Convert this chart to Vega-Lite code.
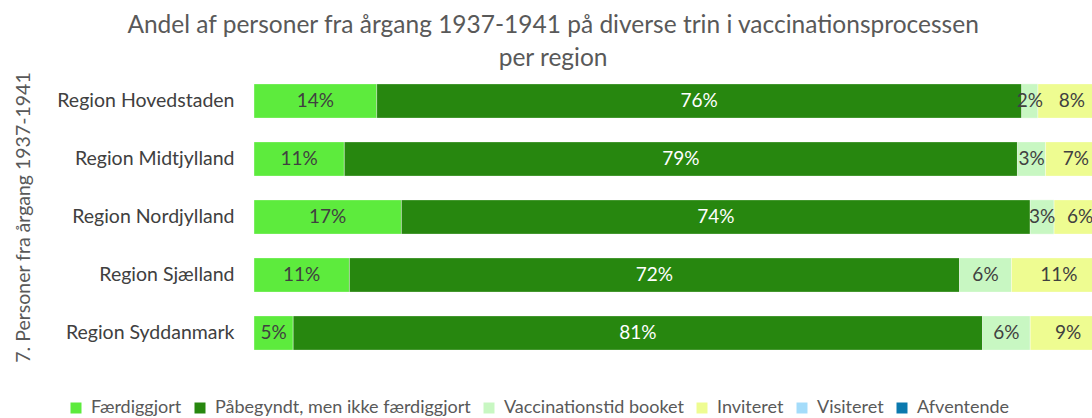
{
  "$schema": "https://vega.github.io/schema/vega-lite/v6.json",
  "width": 838,
  "height": 290,
  "autosize": {"type": "none"},
  "padding": {"left": 254, "top": 72, "right": 0, "bottom": 56},
  "background": "white",
  "config": {"font": "Lato", "view": {"stroke": null}},
  "title": {
    "text": ["Andel af personer fra årgang 1937-1941 på diverse trin i vaccinationsprocessen", "per region"],
    "fontSize": 24.5,
    "font": "Lato",
    "fontWeight": "normal",
    "color": "#595959",
    "lineHeight": 33,
    "anchor": "middle",
    "frame": "bounds",
    "offset": 0
  },
  "data": {
    "values": [
      {"region": "Region Hovedstaden", "stage": "Færdiggjort", "value": 14.4},
      {"region": "Region Hovedstaden", "stage": "Påbegyndt, men ikke færdiggjort", "value": 75.7},
      {"region": "Region Hovedstaden", "stage": "Vaccinationstid booket", "value": 1.9},
      {"region": "Region Hovedstaden", "stage": "Inviteret", "value": 8.0},
      {"region": "Region Midtjylland", "stage": "Færdiggjort", "value": 10.6},
      {"region": "Region Midtjylland", "stage": "Påbegyndt, men ikke færdiggjort", "value": 79.0},
      {"region": "Region Midtjylland", "stage": "Vaccinationstid booket", "value": 3.3},
      {"region": "Region Midtjylland", "stage": "Inviteret", "value": 7.1},
      {"region": "Region Nordjylland", "stage": "Færdiggjort", "value": 17.3},
      {"region": "Region Nordjylland", "stage": "Påbegyndt, men ikke færdiggjort", "value": 73.8},
      {"region": "Region Nordjylland", "stage": "Vaccinationstid booket", "value": 2.8},
      {"region": "Region Nordjylland", "stage": "Inviteret", "value": 6.1},
      {"region": "Region Sjælland", "stage": "Færdiggjort", "value": 11.2},
      {"region": "Region Sjælland", "stage": "Påbegyndt, men ikke færdiggjort", "value": 71.6},
      {"region": "Region Sjælland", "stage": "Vaccinationstid booket", "value": 6.1},
      {"region": "Region Sjælland", "stage": "Inviteret", "value": 11.1},
      {"region": "Region Syddanmark", "stage": "Færdiggjort", "value": 4.6},
      {"region": "Region Syddanmark", "stage": "Påbegyndt, men ikke færdiggjort", "value": 80.9},
      {"region": "Region Syddanmark", "stage": "Vaccinationstid booket", "value": 5.6},
      {"region": "Region Syddanmark", "stage": "Inviteret", "value": 8.9}
    ]
  },
  "transform": [
    {"calculate": "indexof(['Færdiggjort','Påbegyndt, men ikke færdiggjort','Vaccinationstid booket','Inviteret','Visiteret','Afventende'], datum.stage)", "as": "k"},
    {"stack": "value", "groupby": ["region"], "sort": [{"field": "k", "order": "ascending"}], "as": ["v0", "v1"]},
    {"calculate": "(datum.v0 + datum.v1) / 2", "as": "mid"},
    {"calculate": "format(datum.value, '.0f') + '%'", "as": "label"}
  ],
  "encoding": {
    "y": {
      "field": "region",
      "type": "nominal",
      "sort": ["Region Hovedstaden", "Region Midtjylland", "Region Nordjylland", "Region Sjælland", "Region Syddanmark"],
      "scale": {"paddingInner": 0.41, "paddingOuter": 0.205},
      "axis": {
        "title": "7. Personer fra årgang 1937-1941",
        "titleFontSize": 19.5,
        "titleFontWeight": "normal",
        "titleColor": "#595959",
        "titleFont": "Lato",
        "titleX": -231,
        "titleY": 145,
        "titleAngle": -90,
        "titleAlign": "center",
        "titleBaseline": "middle",
        "labelFontSize": 19.5,
        "labelColor": "#404040",
        "labelPadding": 20,
        "ticks": false,
        "domain": false,
        "grid": false
      }
    }
  },
  "layer": [
    {
      "mark": {"type": "bar", "clip": true, "stroke": "white", "strokeWidth": 0.6, "strokeOpacity": 0.6},
      "encoding": {
        "x": {"field": "v0", "type": "quantitative", "scale": {"domain": [0, 98.35], "nice": false, "zero": true}, "axis": null},
        "x2": {"field": "v1"},
        "color": {
          "field": "stage",
          "type": "nominal",
          "scale": {
            "domain": ["Færdiggjort", "Påbegyndt, men ikke færdiggjort", "Vaccinationstid booket", "Inviteret", "Visiteret", "Afventende"],
            "range": ["#5DEB3D", "#27870F", "#C8F7C2", "#EEFC91", "#A4DCFA", "#0B79AE"]
          },
          "legend": {
            "orient": "none",
            "legendX": -187,
            "legendY": 327,
            "direction": "horizontal",
            "gridAlign": "none",
            "title": null,
            "labelFontSize": 18,
            "labelColor": "#595959",
            "labelFont": "Lato",
            "labelLimit": 0,
            "symbolType": "square",
            "symbolSize": 121,
            "symbolStrokeWidth": 0,
            "columnPadding": 9,
            "labelOffset": 6
          }
        }
      }
    },
    {
      "mark": {"type": "text", "fontSize": 19, "font": "Lato", "align": "center", "baseline": "middle"},
      "encoding": {
        "x": {"field": "mid", "type": "quantitative"},
        "text": {"field": "label"},
        "color": {
          "condition": {"test": "datum.stage === 'Påbegyndt, men ikke færdiggjort'", "value": "white"},
          "value": "#404040"
        }
      }
    }
  ]
}
